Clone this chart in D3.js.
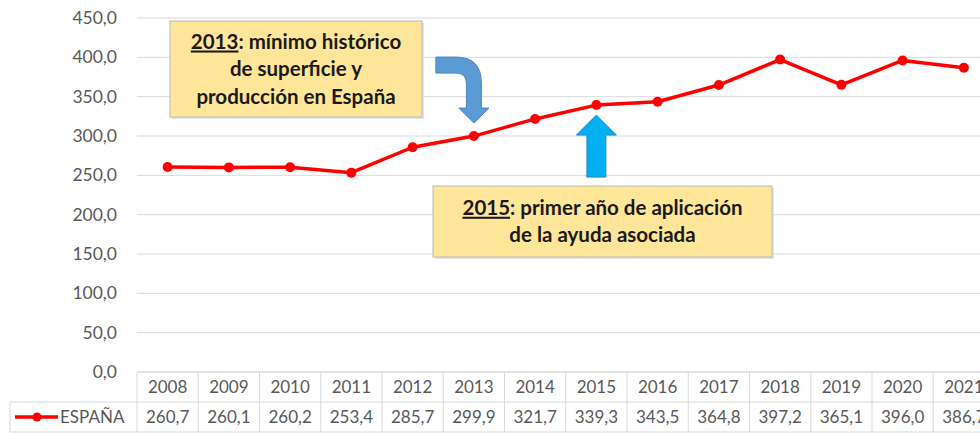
<!DOCTYPE html>
<html>
<head>
<meta charset="utf-8">
<script src="https://cdn.jsdelivr.net/npm/d3@7"></script>
<style>
  body { margin: 0; background: #fff; }
  svg { display: block; font-family: Lato, "Noto Sans", sans-serif; }
</style>
</head>
<body>
<div id="chart"></div>
<script>
var years = ["2008","2009","2010","2011","2012","2013","2014","2015","2016","2017","2018","2019","2020","2021"];
var espana = [260.7, 260.1, 260.2, 253.4, 285.7, 299.9, 321.7, 339.3, 343.5, 364.8, 397.2, 365.1, 396.0, 386.7];
var yTicks = [0, 50, 100, 150, 200, 250, 300, 350, 400, 450];
var seriesName = "ESPAÑA";

var W = 980, H = 433;
var plotLeft = 137, plotTop = 18, plotBottom = 372, colW = 61.25, rowH = 30;

var fmt = function(v) { return d3.format(".1f")(v).replace(".", ","); };

var svg = d3.select("#chart").append("svg")
    .attr("width", W)
    .attr("height", H);

var x = d3.scaleBand()
    .domain(years)
    .range([plotLeft, plotLeft + colW * years.length])
    .padding(0);
var y = d3.scaleLinear().domain([0, 450]).range([plotBottom, plotTop]);
var cx = function(yr) { return x(yr) + x.bandwidth() / 2; };

// gridlines
svg.append("g").selectAll("line")
    .data(yTicks).enter()
    .append("line")
    .attr("x1", plotLeft).attr("x2", W)
    .attr("y1", function(d) { return y(d); })
    .attr("y2", function(d) { return y(d); })
    .attr("stroke", "#d9d9d9")
    .attr("stroke-width", 1);

// y labels
svg.append("g").selectAll("text")
    .data(yTicks).enter()
    .append("text")
    .attr("x", 117)
    .attr("y", function(d) { return y(d) + 6; })
    .attr("text-anchor", "end")
    .attr("fill", "#595959")
    .style("font-size", "17.5px")
    .text(function(d) { return fmt(d); });

// data table
var table = svg.append("g");
table.selectAll("line.v")
    .data(years.concat(["end"])).enter()
    .append("line")
    .attr("x1", function(d, i) { return plotLeft + i * colW; })
    .attr("x2", function(d, i) { return plotLeft + i * colW; })
    .attr("y1", plotBottom).attr("y2", plotBottom + 2 * rowH)
    .attr("stroke", "#d9d9d9");
[plotBottom, plotBottom + rowH, plotBottom + 2 * rowH].forEach(function(yy, i) {
  table.append("line")
      .attr("x1", i === 0 ? plotLeft : 10).attr("x2", W)
      .attr("y1", yy).attr("y2", yy)
      .attr("stroke", "#d9d9d9");
});
table.append("line")
    .attr("x1", 10).attr("x2", 10)
    .attr("y1", plotBottom + rowH).attr("y2", plotBottom + 2 * rowH)
    .attr("stroke", "#d9d9d9");

table.selectAll("text.yr")
    .data(years).enter()
    .append("text")
    .attr("x", function(d) { return cx(d); })
    .attr("y", plotBottom + 21)
    .attr("text-anchor", "middle")
    .attr("fill", "#595959")
    .style("font-size", "17px")
    .text(function(d) { return d; });

table.selectAll("text.val")
    .data(espana).enter()
    .append("text")
    .attr("x", function(d, i) { return cx(years[i]); })
    .attr("y", plotBottom + rowH + 21)
    .attr("text-anchor", "middle")
    .attr("fill", "#595959")
    .style("font-size", "17px")
    .text(function(d) { return fmt(d); });

// legend key in table
var ly = plotBottom + rowH + 15;
table.append("line")
    .attr("x1", 15).attr("x2", 58)
    .attr("y1", ly).attr("y2", ly)
    .attr("stroke", "#ff0000").attr("stroke-width", 3.5);
table.append("circle")
    .attr("cx", 37).attr("cy", ly).attr("r", 4.5)
    .attr("fill", "#ff0000");
table.append("text")
    .attr("x", 60).attr("y", plotBottom + rowH + 21)
    .attr("fill", "#595959")
    .style("font-size", "17px")
    .text(seriesName);

// series line
var line = d3.line()
    .x(function(d, i) { return cx(years[i]); })
    .y(function(d) { return y(d); });

svg.append("path")
    .datum(espana)
    .attr("d", line)
    .attr("fill", "none")
    .attr("stroke", "#ff0000")
    .attr("stroke-width", 3.5)
    .attr("stroke-linejoin", "round");

svg.append("g").selectAll("circle")
    .data(espana).enter()
    .append("circle")
    .attr("cx", function(d, i) { return cx(years[i]); })
    .attr("cy", function(d) { return y(d); })
    .attr("r", 5)
    .attr("fill", "#ff0000");

// annotation boxes
function noteBox(x0, y0, w, h, lines) {
  var g = svg.append("g");
  g.append("rect")
      .attr("x", x0 + 2).attr("y", y0 + 2)
      .attr("width", w).attr("height", h)
      .attr("fill", "#e4e4e4");
  g.append("rect")
      .attr("x", x0).attr("y", y0)
      .attr("width", w).attr("height", h)
      .attr("fill", "#ffe699")
      .attr("stroke", "#b8b8b8")
      .attr("stroke-width", 1);
  var lh = 27.5, mid = y0 + h / 2;
  lines.forEach(function(l, i) {
    var t = g.append("text")
        .attr("x", x0 + w / 2)
        .attr("y", mid + (i - (lines.length - 1) / 2) * lh + 7)
        .attr("text-anchor", "middle")
        .attr("fill", "#1a1a1a")
        .style("font-size", "20.5px")
        .style("font-weight", "bold");
    if (l.u) t.append("tspan").style("text-decoration", "underline").text(l.u);
    t.append("tspan").text(l.t);
  });
}

noteBox(170, 21, 252, 96, [
  {u: "2013", t: ": mínimo histórico"},
  {t: "de superficie y"},
  {t: "producción en España"}
]);
noteBox(433, 186, 339, 71, [
  {u: "2015", t: ": primer año de aplicación"},
  {t: "de la ayuda asociada"}
]);

// bent arrow pointing down at 2013
var tx = cx("2013"), ty = y(espana[5]) - 13;
var bent = "M" + (tx - 38) + "," + (ty - 66) +
    " L" + (tx - 18) + "," + (ty - 66) +
    " Q" + (tx + 7.5) + "," + (ty - 66) + " " + (tx + 7.5) + "," + (ty - 40) +
    " L" + (tx + 7.5) + "," + (ty - 15) +
    " L" + (tx + 15) + "," + (ty - 15) +
    " L" + tx + "," + ty +
    " L" + (tx - 15) + "," + (ty - 15) +
    " L" + (tx - 7.5) + "," + (ty - 15) +
    " L" + (tx - 7.5) + "," + (ty - 40) +
    " Q" + (tx - 7.5) + "," + (ty - 50) + " " + (tx - 18) + "," + (ty - 50) +
    " L" + (tx - 38) + "," + (ty - 50) + " Z";
svg.append("path")
    .attr("d", bent)
    .attr("fill", "#5b9bd5")
    .attr("stroke", "#4a86bd")
    .attr("stroke-width", 1);

// up arrow pointing at 2015
var ux = cx("2015"), uy = y(espana[7]) + 10;
var up = "M" + ux + "," + uy +
    " L" + (ux + 20) + "," + (uy + 20) +
    " L" + (ux + 9.5) + "," + (uy + 20) +
    " L" + (ux + 9.5) + "," + (uy + 62) +
    " L" + (ux - 9.5) + "," + (uy + 62) +
    " L" + (ux - 9.5) + "," + (uy + 20) +
    " L" + (ux - 20) + "," + (uy + 20) + " Z";
svg.append("path")
    .attr("d", up)
    .attr("fill", "#00b0f0")
    .attr("stroke", "#2e86c1")
    .attr("stroke-width", 1);
</script>
</body>
</html>
